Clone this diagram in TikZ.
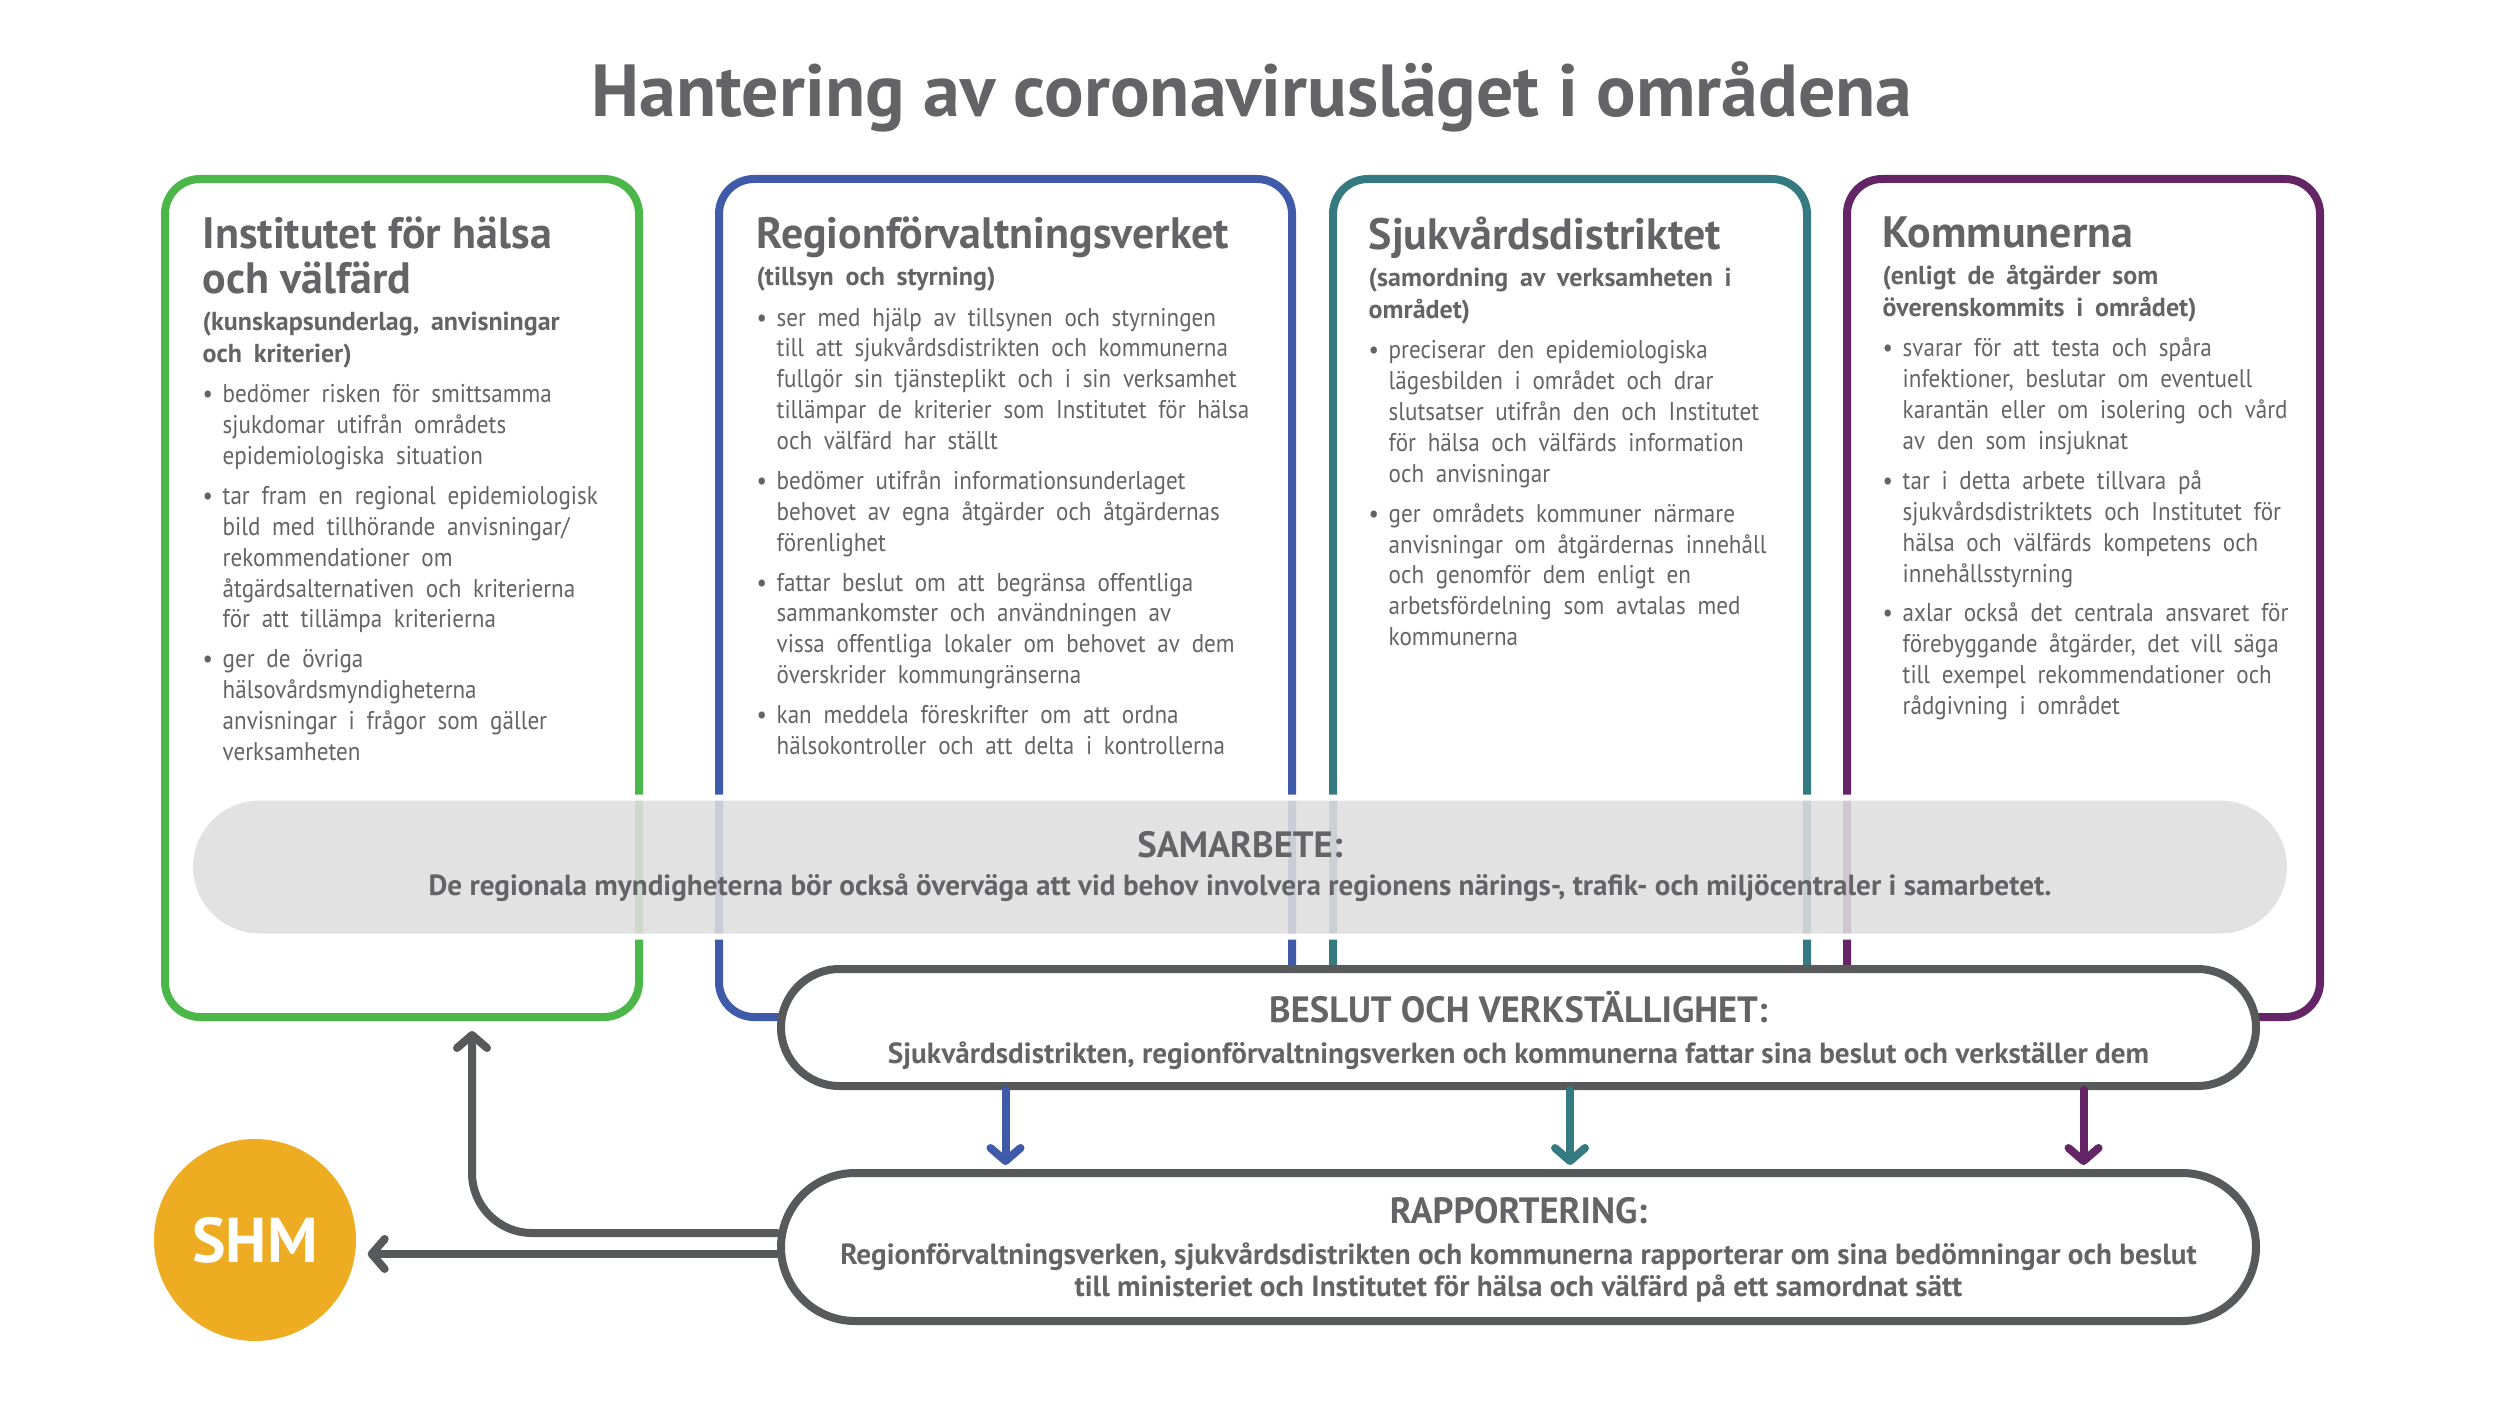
\documentclass[tikz,border=0pt]{standalone}
\usepackage{fontspec}
\setmainfont{PT Sans}
\newfontfamily\bodyfam{PT Sans}[FakeStretch=0.9, WordSpace=0.7]
\usetikzlibrary{arrows.meta, positioning, calc}
\definecolor{thlgreen}{RGB}{74,183,72}
\definecolor{avibblue}{RGB}{63,90,169}
\definecolor{shpteal}{RGB}{54,122,129}
\definecolor{kommpurple}{RGB}{100,37,102}
\definecolor{pilldark}{RGB}{88,89,91}
\definecolor{pillfill}{RGB}{222,222,222}
\definecolor{textgray}{RGB}{100,100,102}
\definecolor{shmorange}{RGB}{238,172,34}
\setlength{\parindent}{0pt}
\newcommand{\headfont}{\fontsize{12.5}{12.8}\selectfont\bfseries}
\newcommand{\subfont}{\fontsize{7.4}{9}\selectfont\bfseries}
\newcommand{\bodyfont}{\bodyfam\fontsize{7.3}{8.8}\selectfont}
\newcommand{\bitem}[1]{\par\vspace{1.5pt}\noindent\makebox[0.2cm][l]{\textbullet}%
  \begin{tabular}[t]{@{}l@{}}#1\end{tabular}\par}

\begin{document}
\begin{tikzpicture}[
  colbox/.style={draw=#1, line width=0.08cm, rounded corners=0.35cm, fill=white,
    minimum height=8.38cm},
  coltext/.style={inner sep=0pt, text width=5.6cm, text=textgray},
  pill/.style={draw=pilldark, line width=0.08cm, fill=white, text=textgray, align=center,
    minimum width=14.75cm},
  flow/.style={line width=0.08cm, line cap=round,
    -{Straight Barb[length=0.13cm, width=0.3cm, round]}},
]
\useasboundingbox (0,0) rectangle (25,-14.06);

% Title
\node[font=\fontsize{21}{23}\selectfont\bfseries, text=textgray] (title) at (12.52,-0.97)
  {Hantering av coronavirusläget i områdena};

% Column boxes
\node[colbox=thlgreen, minimum width=4.74cm] (thl) at (4.02,-5.98) {};
\node[colbox=avibblue, minimum width=5.73cm] (avi) at (10.055,-5.98) {};
\node[colbox=shpteal, minimum width=4.74cm] (shp) at (15.70,-5.98) {};
\node[colbox=kommpurple, minimum width=4.73cm] (komm) at (20.835,-5.98) {};

% Column texts
\node[coltext, below right=0.41cm and 0.41cm of thl.north west] (thltext) {%
  {\headfont Institutet för hälsa\\och välfärd\par}
  \vspace{1.6pt}
  {\subfont (kunskapsunderlag, anvisningar\\och kriterier)\par}
  \vspace{1.2pt}
  \bodyfont
  \bitem{bedömer risken för smittsamma\\sjukdomar utifrån områdets\\epidemiologiska situation}
  \bitem{tar fram en regional epidemiologisk\\bild med tillhörande anvisningar/\\rekommendationer om\\åtgärdsalternativen och kriterierna\\för att tillämpa kriterierna}
  \bitem{ger de övriga\\hälsovårdsmyndigheterna\\anvisningar i frågor som gäller\\verksamheten}};

\node[coltext, below right=0.41cm and 0.41cm of avi.north west] (avitext) {%
  {\headfont Regionförvaltningsverket\par}
  \vspace{1.6pt}
  {\subfont (tillsyn och styrning)\par}
  \vspace{1.2pt}
  \bodyfont
  \bitem{ser med hjälp av tillsynen och styrningen\\till att sjukvårdsdistrikten och kommunerna\\fullgör sin tjänsteplikt och i sin verksamhet\\tillämpar de kriterier som Institutet för hälsa\\och välfärd har ställt}
  \bitem{bedömer utifrån informationsunderlaget\\behovet av egna åtgärder och åtgärdernas\\förenlighet}
  \bitem{fattar beslut om att begränsa offentliga\\sammankomster och användningen av\\vissa offentliga lokaler om behovet av dem\\överskrider kommungränserna}
  \bitem{kan meddela föreskrifter om att ordna\\hälsokontroller och att delta i kontrollerna}};

\node[coltext, below right=0.41cm and 0.39cm of shp.north west] (shptext) {%
  {\headfont Sjukvårdsdistriktet\par}
  \vspace{1.6pt}
  {\subfont (samordning av verksamheten i\\området)\par}
  \vspace{1.2pt}
  \bodyfont
  \bitem{preciserar den epidemiologiska\\lägesbilden i området och drar\\slutsatser utifrån den och Institutet\\för hälsa och välfärds information\\och anvisningar}
  \bitem{ger områdets kommuner närmare\\anvisningar om åtgärdernas innehåll\\och genomför dem enligt en\\arbetsfördelning som avtalas med\\kommunerna}};

\node[coltext, below right=0.41cm and 0.39cm of komm.north west] (kommtext) {%
  {\headfont Kommunerna\par}
  \vspace{1.6pt}
  {\subfont (enligt de åtgärder som\\överenskommits i området)\par}
  \vspace{1.2pt}
  \bodyfont
  \bitem{svarar för att testa och spåra\\infektioner, beslutar om eventuell\\karantän eller om isolering och vård\\av den som insjuknat}
  \bitem{tar i detta arbete tillvara på\\sjukvårdsdistriktets och Institutet för\\hälsa och välfärds kompetens och\\innehållsstyrning}
  \bitem{axlar också det centrala ansvaret för\\förebyggande åtgärder, det vill säga\\till exempel rekommendationer och\\rådgivning i området}};

% Cooperation band
\node[pill, draw=white, line width=0.06cm, fill=pillfill, fill opacity=0.88, text opacity=1,
  minimum width=21cm, minimum height=1.39cm, rounded corners=0.695cm,
  font=\fontsize{8.3}{10.8}\selectfont\bfseries] (samarbete) at (12.40,-8.67)
  {{\fontsize{10.4}{12}\selectfont SAMARBETE:}\\De regionala myndigheterna bör också överväga att vid behov involvera regionens närings-, trafik- och miljöcentraler i samarbetet.};

% Decision and reporting
\node[pill, minimum height=1.17cm, rounded corners=0.585cm, text depth=0cm,
  font=\fontsize{8.3}{11.5}\selectfont\bfseries] (beslut) at (15.185,-10.275)
  {{\fontsize{10.4}{12}\selectfont BESLUT OCH VERKSTÄLLIGHET:}\\Sjukvårdsdistrikten, regionförvaltningsverken och kommunerna fattar sina beslut och verkställer dem};
\node[pill, minimum height=1.48cm, rounded corners=0.74cm, text depth=0cm,
  font=\fontsize{8.3}{9.1}\selectfont\bfseries] (rapp) at (15.185,-12.47)
  {{\fontsize{10.4}{12}\selectfont RAPPORTERING:}\\[2.5pt]Regionförvaltningsverken, sjukvårdsdistrikten och kommunerna rapporterar om sina bedömningar och beslut\\till ministeriet och Institutet för hälsa och välfärd på ett samordnat sätt};

% SHM
\node[circle, fill=shmorange, minimum size=2.02cm, inner sep=0pt, text=white,
  font=\fontsize{18}{20}\selectfont\bfseries] (shm) at (2.55,-12.40) {SHM};

% Arrows
\draw[flow, avibblue, shorten >=0.04cm] (beslut.south -| avi) -- (rapp.north -| avi);
\draw[flow, shpteal, shorten >=0.04cm] (beslut.south -| shp) -- (rapp.north -| shp);
\draw[flow, kommpurple, shorten >=0.04cm] (beslut.south -| komm) -- (rapp.north -| komm);

\coordinate (rappup) at ([yshift=0.14cm]rapp.west);
\coordinate (rappdown) at ([yshift=-0.07cm]rapp.west);
\draw[flow, pilldark, rounded corners=0.6cm] (rappup) -| ([shift={(0.70,-0.10)}]thl.south);
\draw[flow, pilldark, shorten >=0.11cm] (rappdown) -- (rappdown -| shm.east);
\end{tikzpicture}
\end{document}
